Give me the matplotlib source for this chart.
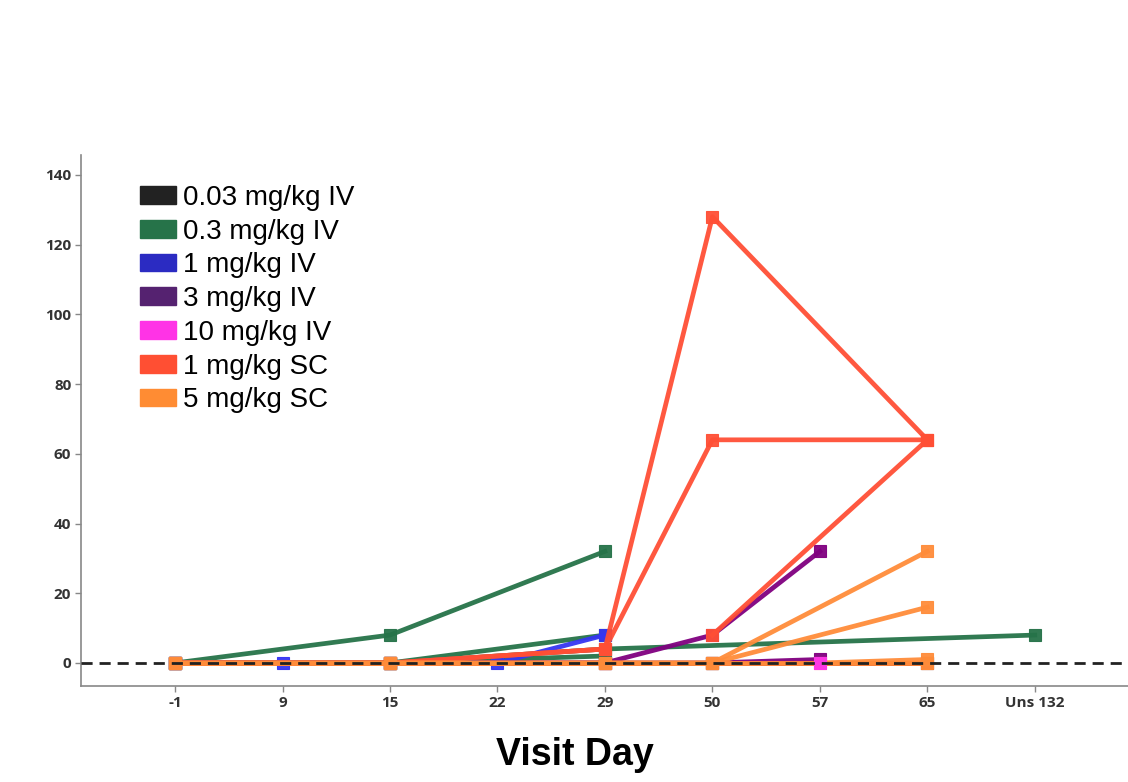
########Titer by visit day, one line per subject########

import matplotlib
matplotlib.use("Agg")
import matplotlib.pyplot as plt
import numpy as np
from matplotlib.patches import Patch

nan = np.nan

############DATA###################
visits = ["-1", "9", "15", "22", "29", "50", "57", "65", "Uns 132"]
groups = ["0.03 mg/kg IV", "0.3 mg/kg IV", "1 mg/kg IV", "3 mg/kg IV",
          "10 mg/kg IV", "1 mg/kg SC", "5 mg/kg SC"]

# one row per subject, aligned with visits (nan = no sample)
dose_003_iv = [[0, nan, 0, nan, 0, 0, nan, 0, nan]]
dose_03_iv = [[0, nan, 8, nan, 32, nan, nan, nan, nan],
              [0, nan, 0, nan, 8, nan, nan, nan, nan],
              [0, nan, 0, nan, 2, nan, nan, nan, nan],
              [0, nan, 0, nan, 4, nan, nan, nan, 8]]
dose_1_iv = [[0, 0, nan, 0, 8, nan, nan, nan, nan]]
dose_3_iv = [[0, nan, 0, nan, 0, 8, 32, nan, nan],
             [0, nan, 0, nan, 0, 0, 1, nan, nan]]
dose_10_iv = [[nan, nan, nan, nan, nan, nan, 0, nan, nan]]
dose_1_sc = [[0, nan, 0, nan, 4, 128, nan, 64, nan],
             [0, nan, 0, nan, 4, 64, nan, 64, nan],
             [nan, nan, nan, nan, nan, 8, nan, 64, nan],
             [0, nan, 0, nan, 0, 0, nan, 0, nan]]
dose_5_sc = [[0, nan, 0, nan, 0, 0, nan, 32, nan],
             [0, nan, 0, nan, 0, 0, nan, 16, nan],
             [nan, nan, nan, nan, nan, nan, 0, 1, nan],
             [0, nan, 0, nan, 0, 0, nan, 0, nan]]
y_ticks = [0, 20, 40, 60, 80, 100, 120, 140]

series = [dose_003_iv, dose_03_iv, dose_1_iv, dose_3_iv, dose_10_iv, dose_1_sc, dose_5_sc]
line_colors = ["#222222", "#267349", "#3535f2", "#800080", "#ff33ee", "#ff4f35", "#ff8c3a"]
legend_colors = ["#222222", "#267349", "#2b2bc2", "#552270", "#ff33e6", "#ff4f33", "#ff8c33"]

######################################

fig = plt.figure(figsize=(11.28, 7.82), dpi=100)
ax = fig.add_axes([0.0718, 0.1228, 0.928, 0.679])

x = np.arange(len(visits))
for subjects, col, grp in zip(series, line_colors, groups):
    # the 10 mg/kg marker sits on top in the original
    z = 3.5 if grp == "10 mg/kg IV" else 2
    for s in subjects:
        s = np.array(s, dtype=float)
        ok = ~np.isnan(s)
        ax.plot(x[ok], s[ok], color=col, lw=3.4, marker="s", ms=8,
                mfc=col, mec=col, mew=0.8, alpha=0.95, zorder=z)

# dashed zero reference
ax.axhline(0, color="#222222", lw=2.0, ls=(0, (4, 2.5)), zorder=5)

ax.set_xlim(-0.875, 8.865)
ax.set_ylim(-6.6, 145.7)
ax.set_xticks(x)
ax.set_xticklabels(visits)
ax.set_yticks(y_ticks)
for lab in ax.get_xticklabels() + ax.get_yticklabels():
    lab.set_fontfamily("Open Sans")
    lab.set_fontweight("bold")
    lab.set_fontsize(11)
    lab.set_color("#333333")
ax.tick_params(axis="both", length=4, width=1, color="#888888", pad=3)

for side in ["top", "right"]:
    ax.spines[side].set_visible(False)
for side in ["left", "bottom"]:
    ax.spines[side].set_color("#888888")
    ax.spines[side].set_linewidth(1.2)

handles = [Patch(facecolor=c, edgecolor=c) for c in legend_colors]
ax.legend(handles, groups, loc="upper left", bbox_to_anchor=(0.056, 0.944),
          frameon=False, prop={"family": "Liberation Sans", "size": 20},
          handlelength=1.3, handleheight=0.6, handletextpad=0.25,
          labelspacing=0.28, borderpad=0, borderaxespad=0)

fig.text(575 / 1128, 0.035, "Visit Day", ha="center", va="center",
         fontsize=27, fontweight="bold", family="Liberation Sans")

fig.savefig("out.png", dpi=100)
